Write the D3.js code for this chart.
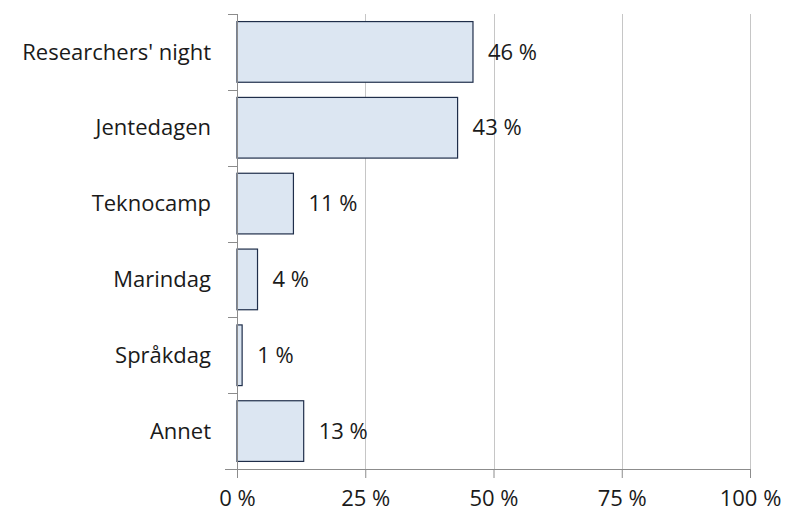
<!DOCTYPE html>
<html>
<head>
<meta charset="utf-8">
<script src="https://cdn.jsdelivr.net/npm/d3@7"></script>
<style>
  html, body { margin: 0; padding: 0; background: #fff; }
  svg { display: block; font-family: "Open Sans", "Noto Sans", sans-serif; }
</style>
</head>
<body>
<svg id="chart" width="787" height="514"></svg>
<script>
// Participation per event (percent)
const categories = ["Researchers' night", "Jentedagen", "Teknocamp", "Marindag", "Språkdag", "Annet"];
const values = [46, 43, 11, 4, 1, 13];
const xTicks = [0, 25, 50, 75, 100];
const fmtPct = d => d + " %";

const W = 787, H = 514;
const margin = { top: 14, right: 37, bottom: 45, left: 237 };
const innerW = W - margin.left - margin.right;
const innerH = H - margin.top - margin.bottom;
const FONT = 22;

const svg = d3.select("#chart");
const g = svg.append("g").attr("transform", `translate(${margin.left},${margin.top})`);

const x = d3.scaleLinear().domain([0, 100]).range([0, innerW]);
const y = d3.scaleBand().domain(categories).range([0, innerH]).paddingInner(0.2).paddingOuter(0.1);

// vertical gridlines
g.append("g")
  .selectAll("line")
  .data(xTicks.filter(d => d > 0))
  .join("line")
  .attr("x1", d => Math.round(x(d)) + 0.5)
  .attr("x2", d => Math.round(x(d)) + 0.5)
  .attr("y1", 0)
  .attr("y2", innerH)
  .attr("stroke", "#c6c6c6")
  .attr("stroke-width", 1);

// bars
g.append("g")
  .selectAll("rect")
  .data(values)
  .join("rect")
  .attr("x", x(0))
  .attr("y", (d, i) => y(categories[i]))
  .attr("width", d => x(d) - x(0))
  .attr("height", y.bandwidth())
  .attr("fill", "#dce6f2")
  .attr("stroke", "#1f2e4a")
  .attr("stroke-width", 1.2);

// value labels
g.append("g")
  .selectAll("text")
  .data(values)
  .join("text")
  .attr("x", d => x(d) + 15)
  .attr("y", (d, i) => y(categories[i]) + y.bandwidth() / 2)
  .attr("dy", "0.35em")
  .attr("font-size", FONT)
  .attr("fill", "#1a1a1a")
  .text(fmtPct);

// y axis (category boundaries as ticks)
const yAxis = g.append("g");
yAxis.append("line")
  .attr("x1", 0.5).attr("x2", 0.5)
  .attr("y1", 0).attr("y2", innerH)
  .attr("stroke", "#8c8c8c");
const step = innerH / categories.length;
yAxis.selectAll("line.tick")
  .data(d3.range(categories.length))
  .join("line")
  .attr("class", "tick")
  .attr("x1", -9).attr("x2", 0)
  .attr("y1", i => Math.round(i * step) + 0.5)
  .attr("y2", i => Math.round(i * step) + 0.5)
  .attr("stroke", "#8c8c8c");
yAxis.selectAll("text")
  .data(categories)
  .join("text")
  .attr("x", -26)
  .attr("y", d => y(d) + y.bandwidth() / 2)
  .attr("dy", "0.35em")
  .attr("text-anchor", "end")
  .attr("font-size", FONT)
  .attr("fill", "#1a1a1a")
  .text(d => d);

// x axis
const xAxis = g.append("g")
  .attr("transform", `translate(0,${innerH})`)
  .call(d3.axisBottom(x).tickValues(xTicks).tickFormat(fmtPct).tickSize(9).tickPadding(12));
xAxis.select(".domain").remove();
xAxis.append("line")
  .attr("x1", -12).attr("x2", innerW)
  .attr("y1", 0.5).attr("y2", 0.5)
  .attr("stroke", "#8c8c8c");
xAxis.selectAll(".tick line").attr("stroke", "#8c8c8c");
xAxis.selectAll(".tick text")
  .attr("font-size", FONT)
  .attr("font-family", "\"Open Sans\", \"Noto Sans\", sans-serif")
  .attr("fill", "#1a1a1a");
</script>
</body>
</html>
